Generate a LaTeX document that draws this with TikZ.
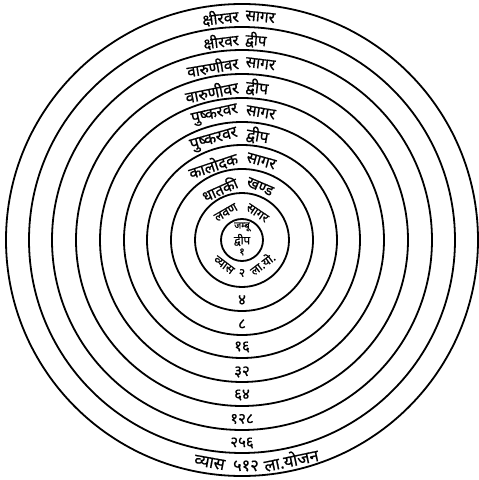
\documentclass[tikz,border=0pt]{standalone}
\usepackage{fontspec}
\newfontfamily\deva[Script=Devanagari,FakeBold=0.7]{Noto Sans}
\tikzset{ring/.style={line width=1.8pt},
  lab/.style={inner sep=0pt,outer sep=0pt},
  sz/.style={font=\deva\fontsize{#1}{#1}\selectfont}}
\begin{document}
\begin{tikzpicture}[x=1pt,y=1pt,font=\deva]
  \useasboundingbox (-242,-240) rectangle (237,240);
  \foreach \r in {21,47,71,95,118,142,166,190,213,236}
    \draw[ring] (0,0) circle (\r);
  \foreach \n/\r/\g/\s/\aa/\ab/\wa/\wb in {ten/224.5/3.5/15.5/6.5/5.5/क्षीरवर/सागर, nine/201/3.5/15/7.1/5/क्षीरवर/द्वीप, eight/178/3.8/15.5/9.7/6.9/वारुणीवर/सागर, seven/154/4/16/11.3/6.9/वारुणीवर/द्वीप, six/130/4.2/15.5/12.6/9.5/पुष्करवर/सागर, five/106.5/4.5/16/15.9/10/पुष्करवर/द्वीप, four/83/5/15.5/18.5/15.5/कालोदक/सागर, three/59/5.5/15/24/23/धातकी/खण्ड, two/34/5.5/12.5/30/34/लवण/सागर}{
    \node[lab,sz=\s,anchor=east,rotate=\aa] (\n a) at (90+\g/\r*57.2958:\r) {\wa};
    \node[lab,sz=\s,anchor=west,rotate=-\ab] (\n b) at (90-\g/\r*57.2958:\r) {\wb};
  }
  \foreach \n/\y/\lab in {3/-60/४, 4/-84/८, 5/-107/१६, 6/-132/३२, 7/-155/६४, 8/-179/१२८, 9/-203/२५६}
    \node[lab,sz=15] (d\n) at (0,\y) {\lab};
  \node[lab,sz=9.5] (jambu) at (0,13) {जम्बू};
  \node[lab,sz=11.5] (dvip) at (0,0) {द्वीप};
  \node[lab,sz=10.5] (one) at (0,-12) {१};
  \node[lab,sz=12] (vyasb) at (270:33) {२};
  \node[lab,sz=12,anchor=east,rotate=-37] (vyasa) at (254:33) {व्यास};
  \node[lab,sz=12,anchor=west,rotate=37] (vyasc) at (286:33) {ला.यो.};
  \node[lab,sz=16.5] (outerb) at (271:226) {५१२};
  \node[lab,sz=16.5,anchor=east,rotate=-10.2] (outera) at (265.6:226) {व्यास};
  \node[lab,sz=16.5,anchor=west,rotate=11.8] (outerc) at (275.6:226) {ला.योजन};
\end{tikzpicture}
\end{document}
